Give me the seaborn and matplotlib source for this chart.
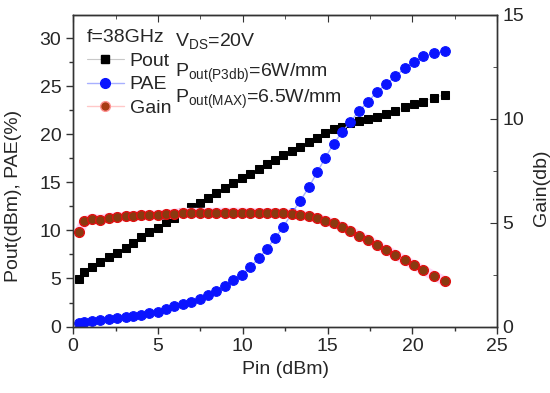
import matplotlib
matplotlib.use('Agg')
import matplotlib.pyplot as plt
from matplotlib.lines import Line2D
from matplotlib.ticker import MultipleLocator
import seaborn as sns
import pandas as pd

# values
pin = [0.35, 0.65, 1.1, 1.6, 2.1, 2.6, 3.1, 3.55, 4.0, 4.5, 5.0, 5.5, 5.95, 6.45, 6.95,
       7.45, 7.95, 8.45, 8.95, 9.45, 9.95, 10.45, 10.95, 11.4, 11.9, 12.4, 12.9, 13.4,
       13.9, 14.4, 14.85, 15.35, 15.85, 16.35, 16.85, 17.4, 17.9, 18.45, 19.0, 19.55,
       20.1, 20.65, 21.25, 21.9]
pout = [4.9, 5.7, 6.2, 6.7, 7.2, 7.7, 8.2, 8.7, 9.3, 9.8, 10.3, 10.9, 11.3, 11.9, 12.4,
        12.9, 13.4, 13.9, 14.4, 14.9, 15.4, 15.9, 16.4, 16.9, 17.3, 17.8, 18.3, 18.7,
        19.2, 19.6, 20.1, 20.5, 20.8, 21.2, 21.4, 21.6, 21.8, 22.1, 22.4, 22.8, 23.1,
        23.4, 23.8, 24.1]
pae = [0.42, 0.5, 0.58, 0.68, 0.78, 0.88, 1.0, 1.1, 1.25, 1.4, 1.55, 1.8, 2.1, 2.35, 2.6,
       2.9, 3.3, 3.7, 4.2, 4.8, 5.4, 6.2, 7.1, 8.05, 9.2, 10.4, 11.8, 13.1, 14.5, 16.1,
       17.5, 19.0, 20.2, 21.3, 22.4, 23.4, 24.4, 25.2, 26.0, 26.9, 27.5, 28.1, 28.4, 28.6]
gain = [4.53, 5.07, 5.2, 5.15, 5.24, 5.27, 5.3, 5.33, 5.35, 5.36, 5.37, 5.4, 5.44, 5.48,
        5.48, 5.48, 5.49, 5.49, 5.49, 5.49, 5.49, 5.48, 5.47, 5.47, 5.46, 5.45, 5.42, 5.38,
        5.3, 5.21, 5.1, 4.97, 4.81, 4.6, 4.38, 4.16, 3.93, 3.69, 3.44, 3.2, 2.95, 2.71,
        2.45, 2.2]

df = pd.DataFrame({'Pin': pin, 'Pout': pout, 'PAE': pae, 'Gain': gain})

sns.set_style('ticks')
plt.rcParams['font.family'] = ['Liberation Sans', 'DejaVu Sans']
plt.rcParams['mathtext.fontset'] = 'custom'
plt.rcParams['mathtext.rm'] = 'Liberation Sans'
fs = 14

fig = plt.figure(figsize=(5.5, 3.93), dpi=100)
ax = fig.add_axes([0.133, 0.169, 0.771, 0.793])
ax2 = ax.twinx()

sns.lineplot(data=df, x='Pin', y='Pout', ax=ax, color='#d0d0d0', lw=0.6, marker='s',
             markersize=6, markerfacecolor='black', markeredgecolor='black')
sns.lineplot(data=df, x='Pin', y='PAE', ax=ax, color='#a8b0ff', lw=1.0, marker='o',
             markersize=7, markerfacecolor='#0a14ff', markeredgecolor='#0a14ff')
sns.lineplot(data=df, x='Pin', y='Gain', ax=ax2, color='#ffd6f4', lw=7,
             solid_capstyle='butt', marker='o', markersize=7,
             markerfacecolor='#8a3a10', markeredgecolor='#e01010', markeredgewidth=1.0)

ax.set_xlim(0, 25)
ax.set_ylim(0, 32.4)
ax2.set_ylim(0, 15)
ax.xaxis.set_major_locator(MultipleLocator(5))
ax.xaxis.set_minor_locator(MultipleLocator(2.5))
ax.yaxis.set_major_locator(MultipleLocator(5))
ax.yaxis.set_minor_locator(MultipleLocator(2.5))
ax2.yaxis.set_major_locator(MultipleLocator(5))
ax2.yaxis.set_minor_locator(MultipleLocator(2.5))

ax.tick_params(axis='both', which='both', labelsize=fs, color='#333333', width=1)
ax.tick_params(axis='both', which='major', length=5)
ax.tick_params(axis='both', which='minor', length=3)
ax.tick_params(axis='x', which='both', top=False, direction='out')
ax2.tick_params(axis='y', which='both', direction='in', labelsize=fs, color='#333333')
ax2.tick_params(axis='y', which='major', length=5)
ax2.tick_params(axis='y', which='minor', length=3)

# top ticks point inward, bottom ones outward
top = ax.secondary_xaxis('top')
top.xaxis.set_major_locator(MultipleLocator(5))
top.xaxis.set_minor_locator(MultipleLocator(2.5))
top.tick_params(axis='x', which='both', direction='in', labeltop=False, color='#333333')
top.tick_params(axis='x', which='major', length=5)
top.tick_params(axis='x', which='minor', length=3)

for a in (ax, ax2):
    for s in a.spines.values():
        s.set_color('#333333')
        s.set_linewidth(1.0)

ax.set_xlabel('Pin (dBm)', fontsize=fs, labelpad=4)
ax.set_ylabel('Pout(dBm), PAE(%)', fontsize=fs)
ax.yaxis.set_label_coords(-0.12, 0.42)
ax2.set_ylabel('Gain(db)', fontsize=fs)
ax2.yaxis.set_label_coords(1.085, 0.445)

handles = [
    Line2D([], [], color='#c8c8c8', lw=0.8, marker='s', markersize=6,
           markerfacecolor='black', markeredgecolor='black'),
    Line2D([], [], color='#a8b0ff', lw=1.0, marker='o', markersize=7,
           markerfacecolor='#0a14ff', markeredgecolor='#0a14ff'),
    Line2D([], [], color='#ffc8c8', lw=1.0, marker='o', markersize=7,
           markerfacecolor='#a83a14', markeredgecolor='#ff9090'),
]
leg = ax2.legend(handles, ['Pout', 'PAE', 'Gain'], title='f=38GHz', loc='upper left',
                 bbox_to_anchor=(0.0, 0.997), frameon=False, fontsize=fs,
                 title_fontsize=fs, handlelength=1.9, handletextpad=0.3,
                 labelspacing=0.3, borderaxespad=0.3)
leg._legend_box.align = 'left'

ax.text(0.24, 0.897, r'V$_{\mathregular{DS}}$=20V', transform=ax.transAxes,
        fontsize=fs, va='baseline')
ax.text(0.24, 0.801, r'P$_{\mathregular{out(P3db)}}$=6W/mm', transform=ax.transAxes,
        fontsize=fs, va='baseline')
ax.text(0.24, 0.718, r'P$_{\mathregular{out(MAX)}}$=6.5W/mm', transform=ax.transAxes,
        fontsize=fs, va='baseline')

fig.savefig('out.png', dpi=100)
